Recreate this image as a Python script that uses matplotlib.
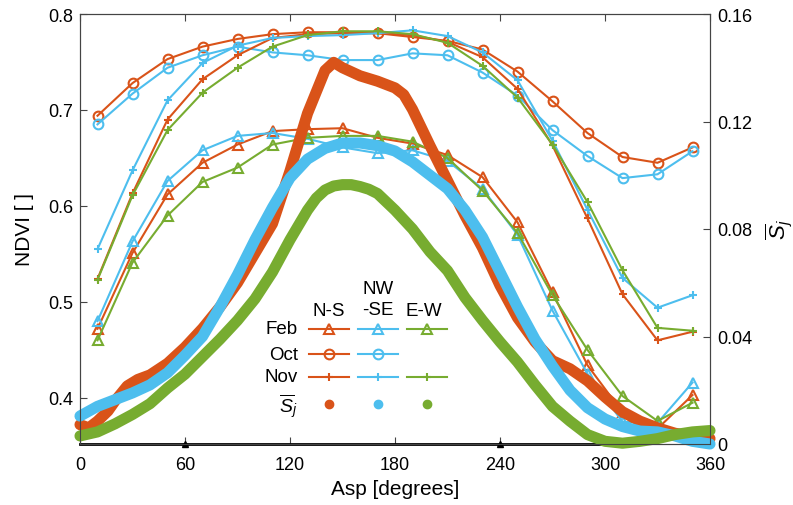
import matplotlib
matplotlib.use("Agg")
import matplotlib.pyplot as plt

plt.rcParams['font.family'] = ['Liberation Sans', 'DejaVu Sans']
plt.rcParams['mathtext.fontset'] = 'custom'
plt.rcParams['mathtext.rm'] = 'Liberation Sans'
plt.rcParams['mathtext.it'] = 'Liberation Sans:italic'

# aspect bins (degrees)
asp = [10, 30, 50, 70, 90, 110, 130, 150, 170, 190, 210, 230, 250, 270, 290, 310, 330, 350]

feb_ns = [0.472, 0.551, 0.612, 0.645, 0.664, 0.678, 0.680, 0.681, 0.671, 0.665, 0.653, 0.630,
          0.583, 0.510, 0.434, 0.385, 0.368, 0.403]
feb_nwse = [0.480, 0.563, 0.626, 0.658, 0.673, 0.676, 0.670, 0.661, 0.655, 0.658, 0.647, 0.618,
            0.570, 0.491, 0.425, 0.375, 0.374, 0.416]
feb_ew = [0.460, 0.541, 0.590, 0.625, 0.640, 0.664, 0.671, 0.673, 0.673, 0.667, 0.650, 0.616,
          0.572, 0.507, 0.450, 0.402, 0.376, 0.395]

oct_ns = [0.694, 0.728, 0.753, 0.766, 0.774, 0.779, 0.781, 0.781, 0.780, 0.776, 0.772, 0.763,
          0.740, 0.709, 0.676, 0.651, 0.645, 0.661]
oct_nwse = [0.685, 0.717, 0.744, 0.757, 0.766, 0.760, 0.757, 0.752, 0.752, 0.759, 0.757, 0.739,
            0.715, 0.679, 0.652, 0.629, 0.633, 0.657]

nov_ns = [0.524, 0.613, 0.690, 0.732, 0.757, 0.775, 0.779, 0.780, 0.780, 0.778, 0.771, 0.755,
          0.722, 0.663, 0.587, 0.508, 0.460, 0.469]
nov_nwse = [0.555, 0.637, 0.710, 0.749, 0.767, 0.775, 0.777, 0.778, 0.780, 0.783, 0.777, 0.760,
            0.731, 0.668, 0.596, 0.525, 0.494, 0.507]
nov_ew = [0.523, 0.611, 0.679, 0.718, 0.744, 0.766, 0.778, 0.782, 0.782, 0.779, 0.770, 0.746,
          0.713, 0.664, 0.604, 0.533, 0.473, 0.470]

# mean S_j curves (right axis)
s_ns_x = [0, 5, 10, 16, 20, 27, 33, 40, 50, 60, 70, 80, 90, 100, 110, 120, 130, 140, 145, 150,
          160, 170, 180, 185, 190, 200, 210, 220, 230, 240, 250, 260, 270, 280, 290, 300, 310,
          320, 330, 340, 350, 360]
s_ns = [0.0072, 0.006, 0.0085, 0.0123, 0.016, 0.0216, 0.0240, 0.0257, 0.030, 0.036, 0.043,
        0.051, 0.060, 0.071, 0.082, 0.1016, 0.123, 0.139, 0.142, 0.140, 0.137, 0.135, 0.1325,
        0.130, 0.1245, 0.111, 0.098, 0.085, 0.073, 0.059, 0.047, 0.038, 0.031, 0.028, 0.0235,
        0.0175, 0.012, 0.0085, 0.006, 0.004, 0.003, 0.002]

s_nwse_x = [0, 10, 20, 30, 40, 50, 60, 70, 80, 90, 100, 110, 120, 130, 140, 150, 160, 170, 180,
            190, 200, 210, 220, 230, 240, 250, 260, 270, 280, 290, 300, 310, 320, 330, 340, 350,
            360]
s_nwse = [0.0104, 0.014, 0.0165, 0.019, 0.022, 0.0265, 0.033, 0.040, 0.051, 0.063, 0.076,
          0.088, 0.099, 0.106, 0.110, 0.112, 0.112, 0.111, 0.109, 0.105, 0.100, 0.095, 0.087,
          0.077, 0.064, 0.051, 0.039, 0.029, 0.020, 0.0135, 0.0093, 0.0065, 0.0048, 0.0045,
          0.003, 0.001, 0.0]

s_ew_x = [0, 10, 20, 30, 40, 50, 60, 70, 80, 90, 100, 110, 120, 130, 135, 140, 145, 150, 155,
          160, 165, 170, 180, 190, 200, 210, 220, 230, 240, 250, 260, 270, 280, 290, 300, 310,
          320, 330, 340, 350, 360]
s_ew = [0.003, 0.0045, 0.0075, 0.011, 0.015, 0.0208, 0.026, 0.0325, 0.039, 0.046, 0.054, 0.064,
        0.076, 0.087, 0.0915, 0.0945, 0.096, 0.0965, 0.0965, 0.0958, 0.0948, 0.0932, 0.087,
        0.080, 0.0715, 0.0645, 0.0545, 0.046, 0.038, 0.0305, 0.022, 0.014, 0.0085, 0.0035, 0.001,
        0.0003, 0.001, 0.002, 0.0035, 0.0045, 0.005]

base_marks = [60, 240]

orange = '#D95319'
blue = '#4DBEEE'
green = '#77AC30'
spine_c = '#444444'

fig = plt.figure(figsize=(7.93, 5.06), dpi=100)
ax = fig.add_axes([80 / 793, 61 / 506, 630 / 793, 430 / 506])
ax2 = ax.twinx()

lw = 1.5
tri = dict(marker='^', ms=7, mfc='none', mew=1.5, lw=lw)
circ = dict(marker='o', ms=7, mfc='none', mew=1.5, lw=lw)
plus = dict(marker='+', ms=6, mew=1.5, lw=lw)

ax.plot(asp, feb_ns, color=orange, **tri)
ax.plot(asp, feb_nwse, color=blue, **tri)
ax.plot(asp, feb_ew, color=green, **tri)
ax.plot(asp, oct_ns, color=orange, **circ)
ax.plot(asp, oct_nwse, color=blue, **circ)
ax.plot(asp, nov_ns, color=orange, **plus)
ax.plot(asp, nov_nwse, color=blue, **plus)
ax.plot(asp, nov_ew, color=green, **plus)

thick = dict(lw=8, solid_capstyle='round', solid_joinstyle='round', clip_on=False)
ax2.plot(s_ns_x, s_ns, color=orange, **thick)
ax2.plot(s_nwse_x, s_nwse, color=blue, **thick)
ax2.plot(s_ew_x, s_ew, color=green, **thick)

ax2.plot([0, 300], [0, 0], color='black', lw=2, clip_on=False, zorder=1)
ax2.plot(base_marks, [0] * len(base_marks), ls='none', marker='^', ms=4, color='black',
         clip_on=False)

ax.set_xlim(0, 360)
ax.set_ylim(0.352, 0.8)
ax2.set_ylim(0, 0.16)
ax.set_xticks(range(0, 361, 60))
ax.set_yticks([0.4, 0.5, 0.6, 0.7, 0.8])
ax.set_yticklabels(['0.4', '0.5', '0.6', '0.7', '0.8'])
ax2.set_yticks([0, 0.04, 0.08, 0.12, 0.16])
ax2.set_yticklabels(['0', '0.04', '0.08', '0.12', '0.16'])

for a in (ax, ax2):
    for s in a.spines.values():
        s.set_color(spine_c)
        s.set_linewidth(0.8)
ax.tick_params(axis='x', direction='in', top=True, length=5, pad=9, labelsize=13,
               color=spine_c)
ax.tick_params(axis='y', direction='in', length=5, pad=5, labelsize=13, color=spine_c)
ax2.tick_params(axis='y', direction='in', length=5, pad=5, labelsize=13, color=spine_c)

ax.set_xlabel('Asp [degrees]', fontsize=15, labelpad=4)
ax.set_ylabel('NDVI [ ]', fontsize=15, labelpad=10)
ax2.set_ylabel(r'$\overline{S}_j$', fontsize=16, labelpad=8)


# table-style legend, positions in axes fraction
def fx(px):
    return (px - 80) / 630


def fy(py):
    return (445 - py) / 430


tr = ax2.transAxes
cols = [329, 378, 427]
rows = [330, 355, 378, 405]
ax2.text(fx(cols[0]), fy(312), 'N-S', transform=tr, ha='center', va='center', fontsize=13.5)
ax2.text(fx(cols[1]), fy(300), 'NW\n-SE', transform=tr, ha='center', va='center',
         fontsize=13.5, linespacing=1.25)
ax2.text(fx(cols[2] - 3), fy(312), 'E-W', transform=tr, ha='center', va='center', fontsize=13.5)
for lab, r in zip(['Feb', 'Oct', 'Nov'], rows[:3]):
    ax2.text(fx(298), fy(r), lab, transform=tr, ha='right', va='center', fontsize=13.5)
ax2.text(fx(298), fy(rows[3] + 2), r'$\overline{S}_j$', transform=tr, ha='right', va='center',
         fontsize=14)

legend_rows = [
    (tri, [orange, blue, green]),
    (circ, [orange, blue, None]),
    (plus, [orange, blue, green]),
]
for (style, colors), r in zip(legend_rows, rows[:3]):
    for c, cx in zip(colors, cols):
        if c is None:
            continue
        ax2.plot([fx(cx - 20), fx(cx), fx(cx + 20)], [fy(r)] * 3, color=c, markevery=[1],
                 transform=tr, clip_on=False, **style)
for c, cx in zip([orange, blue, green], cols):
    ax2.plot([fx(cx)], [fy(rows[3])], 'o', color=c, ms=6, transform=tr, clip_on=False)

fig.savefig('out.png', dpi=100)
